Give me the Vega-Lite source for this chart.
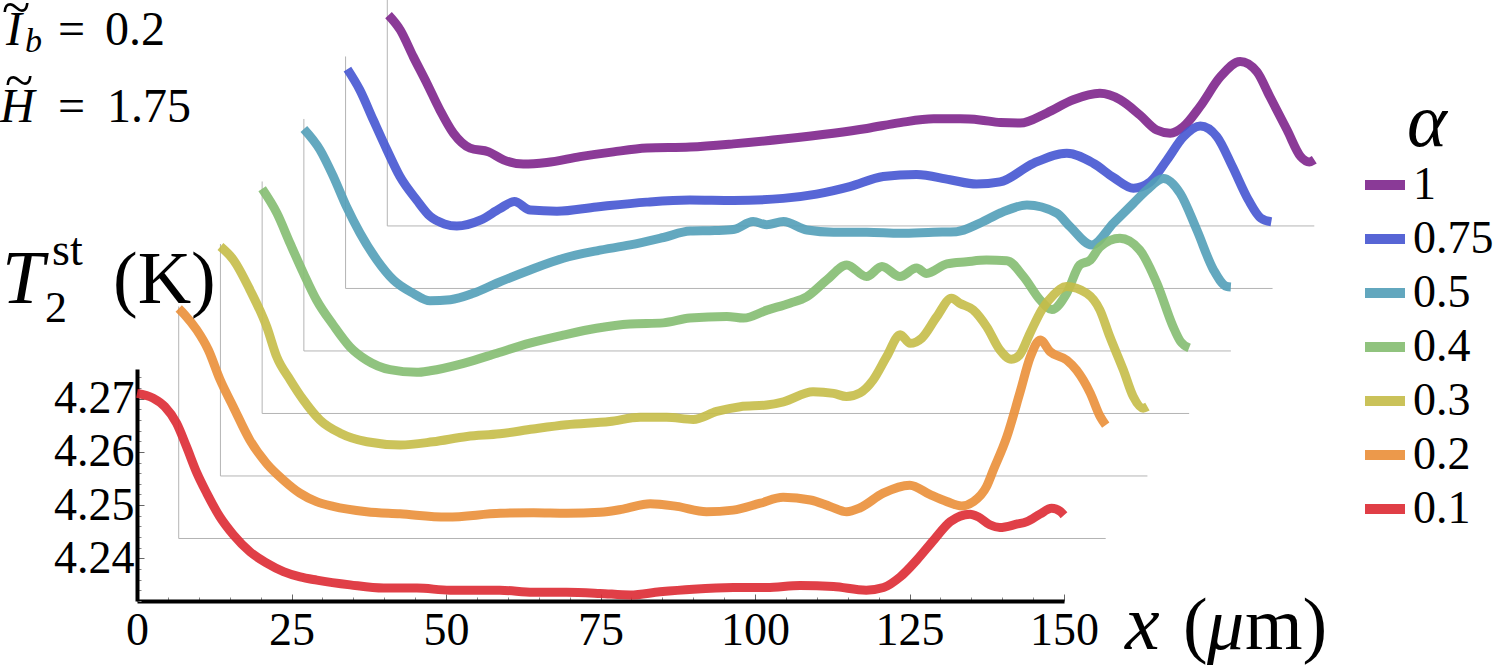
{
"$schema": "https://vega.github.io/schema/vega-lite/v6.json",
"width": 927, "height": 232,
"autosize": {"type": "none"},
"padding": {"left": 137, "top": 369, "right": 432, "bottom": 64},
"background": "white",
"config": {
  "view": {"stroke": null},
  "font": "Liberation Serif",
  "axis": {"labelOverlap": false, "labelFlush": false, "labelBound": false, "grid": false},
  "legend": {"orient": "none", "legendX": 1223, "legendY": -283, "symbolType": "stroke", "symbolSize": 1600, "symbolStrokeWidth": 10,
    "labelFont": "Liberation Serif", "labelFontSize": 46, "labelColor": "black", "labelOffset": 3,
    "titleFont": "Liberation Serif", "titleFontSize": 76, "titleFontStyle": "italic", "titleFontWeight": "normal", "titleColor": "black",
    "titleAnchor": "middle", "titlePadding": -2, "rowPadding": 6, "padding": 0}
},
"datasets": {"curves": [
{"a":"1","x":0.2,"T":4.2716},{"a":"1","x":2.1,"T":4.2688},{"a":"1","x":4.2,"T":4.2638},{"a":"1","x":6.4,"T":4.2588},{"a":"1","x":8.5,"T":4.2538},{"a":"1","x":10.7,"T":4.2494},{"a":"1","x":13.4,"T":4.2466},{"a":"1","x":16.4,"T":4.2459},{"a":"1","x":18.8,"T":4.2444},{"a":"1","x":22.0,"T":4.2436},{"a":"1","x":25.8,"T":4.2439},{"a":"1","x":31.2,"T":4.2450},{"a":"1","x":36.6,"T":4.2459},{"a":"1","x":42.0,"T":4.2466},{"a":"1","x":49.0,"T":4.2468},{"a":"1","x":56.0,"T":4.2474},{"a":"1","x":64.1,"T":4.2483},{"a":"1","x":72.2,"T":4.2494},{"a":"1","x":77.6,"T":4.2503},{"a":"1","x":83.0,"T":4.2514},{"a":"1","x":88.4,"T":4.2521},{"a":"1","x":92.7,"T":4.2521},{"a":"1","x":95.9,"T":4.2519},{"a":"1","x":99.2,"T":4.2514},{"a":"1","x":102.4,"T":4.2513},{"a":"1","x":106.7,"T":4.2532},{"a":"1","x":111.0,"T":4.2557},{"a":"1","x":115.3,"T":4.2569},{"a":"1","x":118.6,"T":4.2557},{"a":"1","x":121.8,"T":4.2528},{"a":"1","x":124.5,"T":4.2500},{"a":"1","x":126.7,"T":4.2494},{"a":"1","x":128.8,"T":4.2506},{"a":"1","x":131.5,"T":4.2544},{"a":"1","x":134.8,"T":4.2600},{"a":"1","x":138.0,"T":4.2629},{"a":"1","x":140.7,"T":4.2610},{"a":"1","x":142.8,"T":4.2563},{"a":"1","x":145.6,"T":4.2500},{"a":"1","x":147.8,"T":4.2450},{"a":"1","x":149.2,"T":4.2440},{"a":"1","x":150,"T":4.2444},
{"a":"0.75","x":0.3,"T":4.2732},{"a":"0.75","x":2.3,"T":4.2693},{"a":"0.75","x":4.5,"T":4.2636},{"a":"0.75","x":6.7,"T":4.2580},{"a":"0.75","x":8.8,"T":4.2530},{"a":"0.75","x":11.5,"T":4.2486},{"a":"0.75","x":13.7,"T":4.2455},{"a":"0.75","x":16.0,"T":4.2441},{"a":"0.75","x":18.0,"T":4.2437},{"a":"0.75","x":21.8,"T":4.2448},{"a":"0.75","x":25.0,"T":4.2470},{"a":"0.75","x":27.3,"T":4.2483},{"a":"0.75","x":29.9,"T":4.2467},{"a":"0.75","x":34.2,"T":4.2465},{"a":"0.75","x":40.6,"T":4.2473},{"a":"0.75","x":48.7,"T":4.2482},{"a":"0.75","x":55.7,"T":4.2486},{"a":"0.75","x":62.8,"T":4.2485},{"a":"0.75","x":70.8,"T":4.2489},{"a":"0.75","x":76.2,"T":4.2497},{"a":"0.75","x":81.6,"T":4.2511},{"a":"0.75","x":87.0,"T":4.2530},{"a":"0.75","x":92.4,"T":4.2534},{"a":"0.75","x":97.8,"T":4.2524},{"a":"0.75","x":102.1,"T":4.2516},{"a":"0.75","x":105.9,"T":4.2520},{"a":"0.75","x":111.3,"T":4.2555},{"a":"0.75","x":116.7,"T":4.2574},{"a":"0.75","x":121.0,"T":4.2555},{"a":"0.75","x":124.3,"T":4.2528},{"a":"0.75","x":127.5,"T":4.2508},{"a":"0.75","x":130.2,"T":4.2520},{"a":"0.75","x":132.9,"T":4.2561},{"a":"0.75","x":135.6,"T":4.2605},{"a":"0.75","x":138.3,"T":4.2625},{"a":"0.75","x":141.0,"T":4.2605},{"a":"0.75","x":143.5,"T":4.2549},{"a":"0.75","x":146.1,"T":4.2486},{"a":"0.75","x":148.1,"T":4.2452},{"a":"0.75","x":149.8,"T":4.2445},
{"a":"0.5","x":0,"T":4.2737},{"a":"0.5","x":2.6,"T":4.2698},{"a":"0.5","x":4.8,"T":4.2647},{"a":"0.5","x":6.9,"T":4.2591},{"a":"0.5","x":9.1,"T":4.2541},{"a":"0.5","x":11.8,"T":4.2491},{"a":"0.5","x":14.5,"T":4.2453},{"a":"0.5","x":17.7,"T":4.2428},{"a":"0.5","x":20.4,"T":4.2414},{"a":"0.5","x":23.7,"T":4.2416},{"a":"0.5","x":27.4,"T":4.2428},{"a":"0.5","x":31.2,"T":4.2447},{"a":"0.5","x":36.6,"T":4.2472},{"a":"0.5","x":42.0,"T":4.2494},{"a":"0.5","x":47.4,"T":4.2508},{"a":"0.5","x":52.8,"T":4.2519},{"a":"0.5","x":58.2,"T":4.2533},{"a":"0.5","x":62.5,"T":4.2545},{"a":"0.5","x":66.5,"T":4.2546},{"a":"0.5","x":69.5,"T":4.2548},{"a":"0.5","x":72.7,"T":4.2563},{"a":"0.5","x":74.9,"T":4.2557},{"a":"0.5","x":77.6,"T":4.2563},{"a":"0.5","x":81.4,"T":4.2547},{"a":"0.5","x":85.7,"T":4.2543},{"a":"0.5","x":91.1,"T":4.2543},{"a":"0.5","x":96.5,"T":4.2541},{"a":"0.5","x":101.9,"T":4.2543},{"a":"0.5","x":105.6,"T":4.2544},{"a":"0.5","x":109.4,"T":4.2560},{"a":"0.5","x":112.7,"T":4.2579},{"a":"0.5","x":117.0,"T":4.2594},{"a":"0.5","x":121.8,"T":4.2579},{"a":"0.5","x":124.0,"T":4.2553},{"a":"0.5","x":127.5,"T":4.2519},{"a":"0.5","x":131.0,"T":4.2560},{"a":"0.5","x":134.2,"T":4.2597},{"a":"0.5","x":136.4,"T":4.2622},{"a":"0.5","x":139.1,"T":4.2644},{"a":"0.5","x":141.8,"T":4.2616},{"a":"0.5","x":144.5,"T":4.2547},{"a":"0.5","x":147.2,"T":4.2472},{"a":"0.5","x":149.3,"T":4.2441},{"a":"0.5","x":150,"T":4.2440},
{"a":"0.4","x":0,"T":4.2742},{"a":"0.4","x":2.4,"T":4.2696},{"a":"0.4","x":4.5,"T":4.2640},{"a":"0.4","x":6.7,"T":4.2583},{"a":"0.4","x":8.8,"T":4.2533},{"a":"0.4","x":11.5,"T":4.2486},{"a":"0.4","x":14.2,"T":4.2445},{"a":"0.4","x":16.9,"T":4.2420},{"a":"0.4","x":20.7,"T":4.2402},{"a":"0.4","x":25.0,"T":4.2397},{"a":"0.4","x":27.2,"T":4.2400},{"a":"0.4","x":32.6,"T":4.2414},{"a":"0.4","x":38.0,"T":4.2433},{"a":"0.4","x":43.3,"T":4.2452},{"a":"0.4","x":48.7,"T":4.2467},{"a":"0.4","x":54.1,"T":4.2480},{"a":"0.4","x":59.5,"T":4.2488},{"a":"0.4","x":64.9,"T":4.2490},{"a":"0.4","x":69.2,"T":4.2499},{"a":"0.4","x":75.2,"T":4.2502},{"a":"0.4","x":77.9,"T":4.2499},{"a":"0.4","x":81.7,"T":4.2514},{"a":"0.4","x":85.4,"T":4.2527},{"a":"0.4","x":88.1,"T":4.2539},{"a":"0.4","x":91.4,"T":4.2571},{"a":"0.4","x":94.6,"T":4.2599},{"a":"0.4","x":97.8,"T":4.2577},{"a":"0.4","x":100.3,"T":4.2596},{"a":"0.4","x":103.2,"T":4.2577},{"a":"0.4","x":105.9,"T":4.2593},{"a":"0.4","x":107.5,"T":4.2583},{"a":"0.4","x":110.8,"T":4.2601},{"a":"0.4","x":114.0,"T":4.2605},{"a":"0.4","x":117.2,"T":4.2608},{"a":"0.4","x":120.5,"T":4.2607},{"a":"0.4","x":123.2,"T":4.2577},{"a":"0.4","x":125.9,"T":4.2533},{"a":"0.4","x":127.8,"T":4.2515},{"a":"0.4","x":130.2,"T":4.2546},{"a":"0.4","x":132.3,"T":4.2599},{"a":"0.4","x":134.0,"T":4.2608},{"a":"0.4","x":135.6,"T":4.2633},{"a":"0.4","x":138.8,"T":4.2649},{"a":"0.4","x":142.0,"T":4.2627},{"a":"0.4","x":144.8,"T":4.2564},{"a":"0.4","x":147.4,"T":4.2483},{"a":"0.4","x":148.6,"T":4.2455},{"a":"0.4","x":150,"T":4.2443},
{"a":"0.3","x":0,"T":4.2751},{"a":"0.3","x":2.1,"T":4.2726},{"a":"0.3","x":4.8,"T":4.2669},{"a":"0.3","x":7.5,"T":4.2600},{"a":"0.3","x":9.1,"T":4.2544},{"a":"0.3","x":11.3,"T":4.2500},{"a":"0.3","x":13.4,"T":4.2463},{"a":"0.3","x":16.1,"T":4.2425},{"a":"0.3","x":19.4,"T":4.2400},{"a":"0.3","x":23.7,"T":4.2384},{"a":"0.3","x":29.1,"T":4.2378},{"a":"0.3","x":34.4,"T":4.2384},{"a":"0.3","x":39.9,"T":4.2394},{"a":"0.3","x":45.2,"T":4.2399},{"a":"0.3","x":50.6,"T":4.2408},{"a":"0.3","x":56.0,"T":4.2416},{"a":"0.3","x":63.0,"T":4.2422},{"a":"0.3","x":67.9,"T":4.2430},{"a":"0.3","x":72.2,"T":4.2430},{"a":"0.3","x":76.5,"T":4.2426},{"a":"0.3","x":80.3,"T":4.2441},{"a":"0.3","x":84.1,"T":4.2450},{"a":"0.3","x":88.4,"T":4.2453},{"a":"0.3","x":91.1,"T":4.2459},{"a":"0.3","x":95.9,"T":4.2478},{"a":"0.3","x":99.2,"T":4.2475},{"a":"0.3","x":101.3,"T":4.2469},{"a":"0.3","x":103.5,"T":4.2476},{"a":"0.3","x":105.6,"T":4.2500},{"a":"0.3","x":107.8,"T":4.2544},{"a":"0.3","x":110.0,"T":4.2585},{"a":"0.3","x":111.6,"T":4.2569},{"a":"0.3","x":113.5,"T":4.2579},{"a":"0.3","x":115.9,"T":4.2619},{"a":"0.3","x":118.3,"T":4.2654},{"a":"0.3","x":119.7,"T":4.2644},{"a":"0.3","x":121.8,"T":4.2632},{"a":"0.3","x":124.0,"T":4.2600},{"a":"0.3","x":126.1,"T":4.2557},{"a":"0.3","x":128.0,"T":4.2539},{"a":"0.3","x":129.3,"T":4.2547},{"a":"0.3","x":131.0,"T":4.2588},{"a":"0.3","x":132.9,"T":4.2632},{"a":"0.3","x":134.8,"T":4.2660},{"a":"0.3","x":136.9,"T":4.2676},{"a":"0.3","x":140.2,"T":4.2663},{"a":"0.3","x":142.3,"T":4.2632},{"a":"0.3","x":143.9,"T":4.2582},{"a":"0.3","x":146.1,"T":4.2519},{"a":"0.3","x":147.7,"T":4.2469},{"a":"0.3","x":149.3,"T":4.2447},{"a":"0.3","x":150,"T":4.2450},
{"a":"0.2","x":0,"T":4.2752},{"a":"0.2","x":1.0,"T":4.2740},{"a":"0.2","x":2.9,"T":4.2712},{"a":"0.2","x":4.8,"T":4.2674},{"a":"0.2","x":6.7,"T":4.2618},{"a":"0.2","x":8.8,"T":4.2568},{"a":"0.2","x":11.5,"T":4.2505},{"a":"0.2","x":14.2,"T":4.2461},{"a":"0.2","x":16.9,"T":4.2430},{"a":"0.2","x":19.6,"T":4.2405},{"a":"0.2","x":22.3,"T":4.2389},{"a":"0.2","x":25.0,"T":4.2380},{"a":"0.2","x":30.4,"T":4.2370},{"a":"0.2","x":35.8,"T":4.2366},{"a":"0.2","x":43.4,"T":4.2360},{"a":"0.2","x":52.0,"T":4.2367},{"a":"0.2","x":57.4,"T":4.2368},{"a":"0.2","x":62.8,"T":4.2367},{"a":"0.2","x":68.2,"T":4.2369},{"a":"0.2","x":71.9,"T":4.2375},{"a":"0.2","x":76.3,"T":4.2385},{"a":"0.2","x":80.6,"T":4.2380},{"a":"0.2","x":85.4,"T":4.2370},{"a":"0.2","x":89.7,"T":4.2373},{"a":"0.2","x":94.1,"T":4.2386},{"a":"0.2","x":97.8,"T":4.2397},{"a":"0.2","x":102.2,"T":4.2392},{"a":"0.2","x":105.4,"T":4.2380},{"a":"0.2","x":108.1,"T":4.2370},{"a":"0.2","x":110.2,"T":4.2377},{"a":"0.2","x":114.0,"T":4.2405},{"a":"0.2","x":118.3,"T":4.2420},{"a":"0.2","x":121.6,"T":4.2402},{"a":"0.2","x":124.3,"T":4.2389},{"a":"0.2","x":126.7,"T":4.2381},{"a":"0.2","x":128.6,"T":4.2389},{"a":"0.2","x":130.7,"T":4.2417},{"a":"0.2","x":131.8,"T":4.2448},{"a":"0.2","x":134.0,"T":4.2511},{"a":"0.2","x":136.1,"T":4.2593},{"a":"0.2","x":137.8,"T":4.2661},{"a":"0.2","x":139.4,"T":4.2693},{"a":"0.2","x":141.0,"T":4.2671},{"a":"0.2","x":143.7,"T":4.2655},{"a":"0.2","x":145.3,"T":4.2636},{"a":"0.2","x":147.5,"T":4.2593},{"a":"0.2","x":149.1,"T":4.2549},{"a":"0.2","x":150,"T":4.2533},
{"a":"0.1","x":0,"T":4.2710},{"a":"0.1","x":2.6,"T":4.2701},{"a":"0.1","x":4.5,"T":4.2685},{"a":"0.1","x":6.4,"T":4.2654},{"a":"0.1","x":8.0,"T":4.2610},{"a":"0.1","x":9.7,"T":4.2560},{"a":"0.1","x":11.3,"T":4.2522},{"a":"0.1","x":13.4,"T":4.2478},{"a":"0.1","x":15.6,"T":4.2444},{"a":"0.1","x":18.3,"T":4.2412},{"a":"0.1","x":21.0,"T":4.2391},{"a":"0.1","x":23.7,"T":4.2375},{"a":"0.1","x":26.4,"T":4.2365},{"a":"0.1","x":29.1,"T":4.2359},{"a":"0.1","x":34.5,"T":4.2350},{"a":"0.1","x":39.9,"T":4.2344},{"a":"0.1","x":45.3,"T":4.2344},{"a":"0.1","x":50.6,"T":4.2340},{"a":"0.1","x":58.7,"T":4.2340},{"a":"0.1","x":64.1,"T":4.2336},{"a":"0.1","x":69.5,"T":4.2336},{"a":"0.1","x":74.9,"T":4.2334},{"a":"0.1","x":79.8,"T":4.2331},{"a":"0.1","x":84.6,"T":4.2337},{"a":"0.1","x":90.0,"T":4.2342},{"a":"0.1","x":96.5,"T":4.2345},{"a":"0.1","x":101.9,"T":4.2345},{"a":"0.1","x":107.3,"T":4.2349},{"a":"0.1","x":112.7,"T":4.2347},{"a":"0.1","x":118.0,"T":4.2340},{"a":"0.1","x":120.8,"T":4.2345},{"a":"0.1","x":123.5,"T":4.2365},{"a":"0.1","x":126.2,"T":4.2397},{"a":"0.1","x":128.9,"T":4.2434},{"a":"0.1","x":131.6,"T":4.2469},{"a":"0.1","x":134.8,"T":4.2483},{"a":"0.1","x":136.1,"T":4.2478},{"a":"0.1","x":138.0,"T":4.2463},{"a":"0.1","x":139.6,"T":4.2458},{"a":"0.1","x":142.3,"T":4.2464},{"a":"0.1","x":144.0,"T":4.2469},{"a":"0.1","x":146.1,"T":4.2483},{"a":"0.1","x":148.0,"T":4.2494},{"a":"0.1","x":149.4,"T":4.2488},{"a":"0.1","x":150,"T":4.2481}
]},
"data": {"name": "curves"},
"layer": [
 {"data": {"values": [{}]}, "mark": {"type": "point", "opacity": 0},
  "encoding": {
   "x": {"datum": 0, "type": "quantitative", "scale": {"domain": [0, 150], "nice": false, "zero": false},
     "axis": {"orient": "bottom", "values": [5,10,15,20,30,35,40,45,55,60,65,70,80,85,90,95,105,110,115,120,130,135,140,145], "labels": false, "domain": false, "ticks": true, "tickSize": -4, "tickColor": "#888888", "tickWidth": 1, "title": null, "grid": false}},
   "y": {"datum": 4.24, "type": "quantitative", "scale": {"domain": [4.23197, 4.27558], "nice": false, "zero": false},
     "axis": {"orient": "left", "values": [4.232,4.234,4.236,4.238,4.242,4.244,4.246,4.248,4.252,4.254,4.256,4.258,4.262,4.264,4.266,4.268,4.272,4.274], "labels": false, "domain": false, "ticks": true, "tickSize": -4, "tickColor": "#888888", "tickWidth": 1, "title": null, "grid": false}}}},
 {"layer": [
  {"data": {"values": [{}]}, "mark": {"type": "rule", "color": "#b4b4b4", "strokeWidth": 1}, "encoding": {"x": {"datum": 0, "type": "quantitative", "scale": {"domain": [-40.5, 109.5], "nice": false, "zero": false}, "axis": null}, "y": {"datum": 4.27558, "type": "quantitative", "scale": {"domain": [4.16147, 4.20508], "nice": false, "zero": false}, "axis": null}, "y2": {"datum": 4.23197}}},
  {"data": {"values": [{}]}, "mark": {"type": "rule", "color": "#b4b4b4", "strokeWidth": 1}, "encoding": {"x": {"datum": 0, "type": "quantitative", "axis": null}, "x2": {"datum": 150}, "y": {"datum": 4.23197, "type": "quantitative", "axis": null}}},
  {"transform": [{"filter": "datum.a === '1'"}], "mark": {"type": "line", "interpolate": "monotone", "strokeWidth": 9, "opacity": 0.9}, "encoding": {"x": {"field": "x", "type": "quantitative", "scale": {"domain": [-40.5, 109.5], "nice": false, "zero": false}, "axis": null}, "y": {"field": "T", "type": "quantitative", "scale": {"domain": [4.16147, 4.20508], "nice": false, "zero": false}, "axis": null}, "color": {"field": "a", "type": "nominal", "title": "α", "scale": {"domain": ["1", "0.75", "0.5", "0.4", "0.3", "0.2", "0.1"], "range": ["#7E258C", "#4555D1", "#529EB8", "#84BD71", "#C5BC48", "#EA8F38", "#DD2A33"]}}}}
 ]},
 {"layer": [
  {"data": {"values": [{}]}, "mark": {"type": "rule", "color": "#b4b4b4", "strokeWidth": 1}, "encoding": {"x": {"datum": 0, "type": "quantitative", "scale": {"domain": [-33.75, 116.25], "nice": false, "zero": false}, "axis": null}, "y": {"datum": 4.27558, "type": "quantitative", "scale": {"domain": [4.17322, 4.21683], "nice": false, "zero": false}, "axis": null}, "y2": {"datum": 4.23197}}},
  {"data": {"values": [{}]}, "mark": {"type": "rule", "color": "#b4b4b4", "strokeWidth": 1}, "encoding": {"x": {"datum": 0, "type": "quantitative", "axis": null}, "x2": {"datum": 150}, "y": {"datum": 4.23197, "type": "quantitative", "axis": null}}},
  {"transform": [{"filter": "datum.a === '0.75'"}], "mark": {"type": "line", "interpolate": "monotone", "strokeWidth": 9, "opacity": 0.9}, "encoding": {"x": {"field": "x", "type": "quantitative", "scale": {"domain": [-33.75, 116.25], "nice": false, "zero": false}, "axis": null}, "y": {"field": "T", "type": "quantitative", "scale": {"domain": [4.17322, 4.21683], "nice": false, "zero": false}, "axis": null}, "color": {"field": "a", "type": "nominal", "title": "α"}}}
 ]},
 {"layer": [
  {"data": {"values": [{}]}, "mark": {"type": "rule", "color": "#b4b4b4", "strokeWidth": 1}, "encoding": {"x": {"datum": 0, "type": "quantitative", "scale": {"domain": [-27, 123], "nice": false, "zero": false}, "axis": null}, "y": {"datum": 4.27558, "type": "quantitative", "scale": {"domain": [4.18497, 4.22858], "nice": false, "zero": false}, "axis": null}, "y2": {"datum": 4.23197}}},
  {"data": {"values": [{}]}, "mark": {"type": "rule", "color": "#b4b4b4", "strokeWidth": 1}, "encoding": {"x": {"datum": 0, "type": "quantitative", "axis": null}, "x2": {"datum": 150}, "y": {"datum": 4.23197, "type": "quantitative", "axis": null}}},
  {"transform": [{"filter": "datum.a === '0.5'"}], "mark": {"type": "line", "interpolate": "monotone", "strokeWidth": 9, "opacity": 0.9}, "encoding": {"x": {"field": "x", "type": "quantitative", "scale": {"domain": [-27, 123], "nice": false, "zero": false}, "axis": null}, "y": {"field": "T", "type": "quantitative", "scale": {"domain": [4.18497, 4.22858], "nice": false, "zero": false}, "axis": null}, "color": {"field": "a", "type": "nominal", "title": "α"}}}
 ]},
 {"layer": [
  {"data": {"values": [{}]}, "mark": {"type": "rule", "color": "#b4b4b4", "strokeWidth": 1}, "encoding": {"x": {"datum": 0, "type": "quantitative", "scale": {"domain": [-20.25, 129.75], "nice": false, "zero": false}, "axis": null}, "y": {"datum": 4.27558, "type": "quantitative", "scale": {"domain": [4.19672, 4.24033], "nice": false, "zero": false}, "axis": null}, "y2": {"datum": 4.23197}}},
  {"data": {"values": [{}]}, "mark": {"type": "rule", "color": "#b4b4b4", "strokeWidth": 1}, "encoding": {"x": {"datum": 0, "type": "quantitative", "axis": null}, "x2": {"datum": 150}, "y": {"datum": 4.23197, "type": "quantitative", "axis": null}}},
  {"transform": [{"filter": "datum.a === '0.4'"}], "mark": {"type": "line", "interpolate": "monotone", "strokeWidth": 9, "opacity": 0.9}, "encoding": {"x": {"field": "x", "type": "quantitative", "scale": {"domain": [-20.25, 129.75], "nice": false, "zero": false}, "axis": null}, "y": {"field": "T", "type": "quantitative", "scale": {"domain": [4.19672, 4.24033], "nice": false, "zero": false}, "axis": null}, "color": {"field": "a", "type": "nominal", "title": "α"}}}
 ]},
 {"layer": [
  {"data": {"values": [{}]}, "mark": {"type": "rule", "color": "#b4b4b4", "strokeWidth": 1}, "encoding": {"x": {"datum": 0, "type": "quantitative", "scale": {"domain": [-13.5, 136.5], "nice": false, "zero": false}, "axis": null}, "y": {"datum": 4.27558, "type": "quantitative", "scale": {"domain": [4.20847, 4.25208], "nice": false, "zero": false}, "axis": null}, "y2": {"datum": 4.23197}}},
  {"data": {"values": [{}]}, "mark": {"type": "rule", "color": "#b4b4b4", "strokeWidth": 1}, "encoding": {"x": {"datum": 0, "type": "quantitative", "axis": null}, "x2": {"datum": 150}, "y": {"datum": 4.23197, "type": "quantitative", "axis": null}}},
  {"transform": [{"filter": "datum.a === '0.3'"}], "mark": {"type": "line", "interpolate": "monotone", "strokeWidth": 9, "opacity": 0.9}, "encoding": {"x": {"field": "x", "type": "quantitative", "scale": {"domain": [-13.5, 136.5], "nice": false, "zero": false}, "axis": null}, "y": {"field": "T", "type": "quantitative", "scale": {"domain": [4.20847, 4.25208], "nice": false, "zero": false}, "axis": null}, "color": {"field": "a", "type": "nominal", "title": "α"}}}
 ]},
 {"layer": [
  {"data": {"values": [{}]}, "mark": {"type": "rule", "color": "#b4b4b4", "strokeWidth": 1}, "encoding": {"x": {"datum": 0, "type": "quantitative", "scale": {"domain": [-6.75, 143.25], "nice": false, "zero": false}, "axis": null}, "y": {"datum": 4.27558, "type": "quantitative", "scale": {"domain": [4.22022, 4.26383], "nice": false, "zero": false}, "axis": null}, "y2": {"datum": 4.23197}}},
  {"data": {"values": [{}]}, "mark": {"type": "rule", "color": "#b4b4b4", "strokeWidth": 1}, "encoding": {"x": {"datum": 0, "type": "quantitative", "axis": null}, "x2": {"datum": 150}, "y": {"datum": 4.23197, "type": "quantitative", "axis": null}}},
  {"transform": [{"filter": "datum.a === '0.2'"}], "mark": {"type": "line", "interpolate": "monotone", "strokeWidth": 9, "opacity": 0.9}, "encoding": {"x": {"field": "x", "type": "quantitative", "scale": {"domain": [-6.75, 143.25], "nice": false, "zero": false}, "axis": null}, "y": {"field": "T", "type": "quantitative", "scale": {"domain": [4.22022, 4.26383], "nice": false, "zero": false}, "axis": null}, "color": {"field": "a", "type": "nominal", "title": "α"}}}
 ]},
 {"layer": [
  {"transform": [{"filter": "datum.a === '0.1'"}], "mark": {"type": "line", "interpolate": "monotone", "strokeWidth": 9, "opacity": 0.9},
   "encoding": {
    "x": {"field": "x", "type": "quantitative", "scale": {"domain": [0, 150], "nice": false, "zero": false},
      "axis": {"orient": "bottom", "values": [0, 25, 50, 75, 100, 125, 150], "format": "d", "title": null, "grid": false,
        "domain": true, "domainColor": "black", "domainWidth": 4, "ticks": true, "tickColor": "#666666", "tickWidth": 1, "tickSize": -7,
        "labelFont": "Liberation Serif", "labelFontSize": 46, "labelColor": "black", "labelPadding": 14,
        "labelOverlap": false, "labelFlush": false, "labelBound": false}},
    "y": {"field": "T", "type": "quantitative", "scale": {"domain": [4.23197, 4.27558], "nice": false, "zero": false},
      "axis": {"orient": "left", "values": [4.24, 4.25, 4.26, 4.27], "format": ".2f", "title": null, "grid": false,
        "domain": true, "domainColor": "black", "domainWidth": 4, "ticks": true, "tickColor": "#666666", "tickWidth": 1, "tickSize": -7,
        "labelFont": "Liberation Serif", "labelFontSize": 46, "labelColor": "black", "labelPadding": 10,
        "labelOverlap": false, "labelFlush": false, "labelBound": false}},
    "color": {"field": "a", "type": "nominal", "title": "α"}}},
  {"data": {"values": [{}]}, "mark": {"type": "text", "text": "~", "font": "Liberation Serif", "fontSize": 52, "align": "left", "baseline": "alphabetic", "color": "black"}, "encoding": {"x": {"datum": -21.84, "type": "quantitative"}, "y": {"datum": 4.34024, "type": "quantitative"}}},
  {"data": {"values": [{}]}, "mark": {"type": "text", "text": "I", "font": "Liberation Serif", "fontSize": 48, "fontStyle": "italic", "align": "left", "baseline": "alphabetic", "color": "black"}, "encoding": {"x": {"datum": -21.2, "type": "quantitative"}, "y": {"datum": 4.33648, "type": "quantitative"}}},
  {"data": {"values": [{}]}, "mark": {"type": "text", "text": "b", "font": "Liberation Serif", "fontSize": 34, "fontStyle": "italic", "align": "left", "baseline": "alphabetic", "color": "black"}, "encoding": {"x": {"datum": -18.12, "type": "quantitative"}, "y": {"datum": 4.33517, "type": "quantitative"}}},
  {"data": {"values": [{}]}, "mark": {"type": "text", "text": "=", "font": "Liberation Serif", "fontSize": 48, "align": "left", "baseline": "alphabetic", "color": "black"}, "encoding": {"x": {"datum": -12.78, "type": "quantitative"}, "y": {"datum": 4.33648, "type": "quantitative"}}},
  {"data": {"values": [{}]}, "mark": {"type": "text", "text": "0.2", "font": "Liberation Serif", "fontSize": 48, "align": "left", "baseline": "alphabetic", "color": "black"}, "encoding": {"x": {"datum": -5.18, "type": "quantitative"}, "y": {"datum": 4.33648, "type": "quantitative"}}},
  {"data": {"values": [{}]}, "mark": {"type": "text", "text": "~", "font": "Liberation Serif", "fontSize": 52, "align": "left", "baseline": "alphabetic", "color": "black"}, "encoding": {"x": {"datum": -21.36, "type": "quantitative"}, "y": {"datum": 4.32652, "type": "quantitative"}}},
  {"data": {"values": [{}]}, "mark": {"type": "text", "text": "H", "font": "Liberation Serif", "fontSize": 48, "fontStyle": "italic", "align": "left", "baseline": "alphabetic", "color": "black"}, "encoding": {"x": {"datum": -22.17, "type": "quantitative"}, "y": {"datum": 4.32201, "type": "quantitative"}}},
  {"data": {"values": [{}]}, "mark": {"type": "text", "text": "=", "font": "Liberation Serif", "fontSize": 48, "align": "left", "baseline": "alphabetic", "color": "black"}, "encoding": {"x": {"datum": -12.78, "type": "quantitative"}, "y": {"datum": 4.32201, "type": "quantitative"}}},
  {"data": {"values": [{}]}, "mark": {"type": "text", "text": "1.75", "font": "Liberation Serif", "fontSize": 48, "align": "left", "baseline": "alphabetic", "color": "black"}, "encoding": {"x": {"datum": -4.85, "type": "quantitative"}, "y": {"datum": 4.32201, "type": "quantitative"}}},
  {"data": {"values": [{}]}, "mark": {"type": "text", "text": "T", "font": "Liberation Serif", "fontSize": 76, "fontStyle": "italic", "align": "left", "baseline": "alphabetic", "color": "black"}, "encoding": {"x": {"datum": -21.84, "type": "quantitative"}, "y": {"datum": 4.28799, "type": "quantitative"}}},
  {"data": {"values": [{}]}, "mark": {"type": "text", "text": "2", "font": "Liberation Serif", "fontSize": 44, "align": "left", "baseline": "alphabetic", "color": "black"}, "encoding": {"x": {"datum": -14.89, "type": "quantitative"}, "y": {"datum": 4.28442, "type": "quantitative"}}},
  {"data": {"values": [{}]}, "mark": {"type": "text", "text": "st", "font": "Liberation Serif", "fontSize": 46, "align": "left", "baseline": "alphabetic", "color": "black"}, "encoding": {"x": {"datum": -13.75, "type": "quantitative"}, "y": {"datum": 4.29513, "type": "quantitative"}}},
  {"data": {"values": [{}]}, "mark": {"type": "text", "text": "(K)", "font": "Liberation Serif", "fontSize": 74, "align": "left", "baseline": "alphabetic", "color": "black"}, "encoding": {"x": {"datum": -3.88, "type": "quantitative"}, "y": {"datum": 4.28799, "type": "quantitative"}}},
  {"data": {"values": [{}]}, "mark": {"type": "text", "text": "x", "font": "Liberation Serif", "fontSize": 78, "fontStyle": "italic", "align": "left", "baseline": "alphabetic", "color": "black"}, "encoding": {"x": {"datum": 159.87, "type": "quantitative"}, "y": {"datum": 4.22295, "type": "quantitative"}}},
  {"data": {"values": [{}]}, "mark": {"type": "text", "text": "(", "font": "Liberation Serif", "fontSize": 74, "align": "left", "baseline": "alphabetic", "color": "black"}, "encoding": {"x": {"datum": 169.26, "type": "quantitative"}, "y": {"datum": 4.22295, "type": "quantitative"}}},
  {"data": {"values": [{}]}, "mark": {"type": "text", "text": "μ", "font": "Liberation Serif", "fontSize": 74, "fontStyle": "italic", "align": "left", "baseline": "alphabetic", "color": "black"}, "encoding": {"x": {"datum": 173.14, "type": "quantitative"}, "y": {"datum": 4.22295, "type": "quantitative"}}},
  {"data": {"values": [{}]}, "mark": {"type": "text", "text": "m)", "font": "Liberation Serif", "fontSize": 74, "align": "left", "baseline": "alphabetic", "color": "black"}, "encoding": {"x": {"datum": 179.29, "type": "quantitative"}, "y": {"datum": 4.22295, "type": "quantitative"}}}
 ]}
],
"resolve": {"scale": {"x": "independent", "y": "independent"}}
}
